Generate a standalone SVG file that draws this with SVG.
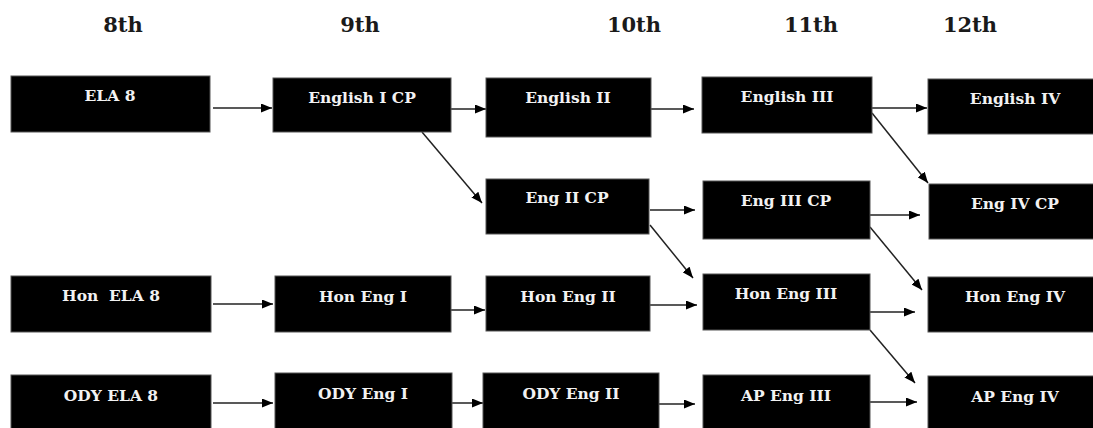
<svg xmlns="http://www.w3.org/2000/svg" width="1093" height="428" viewBox="0 0 1093 428">
<style>
.hdr{font-family:"DejaVu Serif","Liberation Serif",serif;font-weight:bold;font-size:21px;fill:#1a1a1a;text-anchor:middle}
.box{fill:#000;stroke:#555;stroke-width:1}
.lbl{font-family:"DejaVu Serif","Liberation Serif",serif;font-weight:bold;font-size:15.5px;fill:#f2f2f2;text-anchor:middle;white-space:pre}
.edge{stroke:#222;stroke-width:1.5;fill:none;marker-end:url(#ah)}
</style>
<defs>
<marker id="ah" markerUnits="userSpaceOnUse" markerWidth="11" markerHeight="9" refX="11" refY="4.5" orient="auto">
<path d="M0,0 L11,4.5 L0,9 z" fill="#000"/>
</marker>
</defs>
<rect width="1093" height="428" fill="#fff"/>
<g id="headers">
<text class="hdr" x="123" y="32">8th</text>
<text class="hdr" x="360" y="32">9th</text>
<text class="hdr" x="634" y="32">10th</text>
<text class="hdr" x="811" y="32">11th</text>
<text class="hdr" x="970" y="32">12th</text>
</g>
<g id="connectors">
<path class="edge" d="M213,108 L272,108"/>
<path class="edge" d="M451,109 L486,109"/>
<path class="edge" d="M651,109 L694,109"/>
<path class="edge" d="M872,108 L927,108"/>
<path class="edge" d="M422,132 L482,203"/>
<path class="edge" d="M650,210 L695,210"/>
<path class="edge" d="M650,225 L693,278"/>
<path class="edge" d="M872,113 L928,183"/>
<path class="edge" d="M870,215 L920,215"/>
<path class="edge" d="M870,227 L922,290"/>
<path class="edge" d="M213,304 L273,304"/>
<path class="edge" d="M451,310 L485,310"/>
<path class="edge" d="M650,305 L697,305"/>
<path class="edge" d="M870,312 L915,312"/>
<path class="edge" d="M870,330 L915,383"/>
<path class="edge" d="M213,403 L273,403"/>
<path class="edge" d="M452,403 L483,403"/>
<path class="edge" d="M659,404 L695,404"/>
<path class="edge" d="M870,402 L917,402"/>
</g>
<g id="ela8"><rect class="box" x="11" y="76" width="199" height="56"/><text class="lbl" x="110" y="101">ELA 8</text></g>
<g id="english1cp"><rect class="box" x="273" y="78" width="178" height="54"/><text class="lbl" x="362" y="103">English I CP</text></g>
<g id="english2"><rect class="box" x="486" y="78" width="165" height="59"/><text class="lbl" x="568" y="103">English II</text></g>
<g id="english3"><rect class="box" x="702" y="77" width="170" height="56"/><text class="lbl" x="787" y="102">English III</text></g>
<g id="english4"><rect class="box" x="928" y="79" width="170" height="55"/><text class="lbl" x="1015" y="104">English IV</text></g>
<g id="eng2cp"><rect class="box" x="486" y="179" width="163" height="55"/><text class="lbl" x="567" y="203">Eng II CP</text></g>
<g id="eng3cp"><rect class="box" x="703" y="181" width="167" height="58"/><text class="lbl" x="786" y="206">Eng III CP</text></g>
<g id="eng4cp"><rect class="box" x="929" y="184" width="170" height="55"/><text class="lbl" x="1015" y="209">Eng IV CP</text></g>
<g id="honela8"><rect class="box" x="11" y="276" width="200" height="56"/><text class="lbl" x="111" y="301">Hon  ELA 8</text></g>
<g id="honeng1"><rect class="box" x="275" y="276" width="176" height="56"/><text class="lbl" x="363" y="302">Hon Eng I</text></g>
<g id="honeng2"><rect class="box" x="486" y="276" width="164" height="55"/><text class="lbl" x="568" y="302">Hon Eng II</text></g>
<g id="honeng3"><rect class="box" x="703" y="274" width="167" height="56"/><text class="lbl" x="786" y="299">Hon Eng III</text></g>
<g id="honeng4"><rect class="box" x="928" y="277" width="170" height="55"/><text class="lbl" x="1015" y="302">Hon Eng IV</text></g>
<g id="odyela8"><rect class="box" x="11" y="375" width="200" height="60"/><text class="lbl" x="111" y="401">ODY ELA 8</text></g>
<g id="odyeng1"><rect class="box" x="275" y="373" width="177" height="60"/><text class="lbl" x="363" y="399">ODY Eng I</text></g>
<g id="odyeng2"><rect class="box" x="483" y="373" width="176" height="60"/><text class="lbl" x="571" y="399">ODY Eng II</text></g>
<g id="apeng3"><rect class="box" x="703" y="375" width="167" height="60"/><text class="lbl" x="786" y="401">AP Eng III</text></g>
<g id="apeng4"><rect class="box" x="928" y="376" width="170" height="60"/><text class="lbl" x="1015" y="402">AP Eng IV</text></g>
</svg>
